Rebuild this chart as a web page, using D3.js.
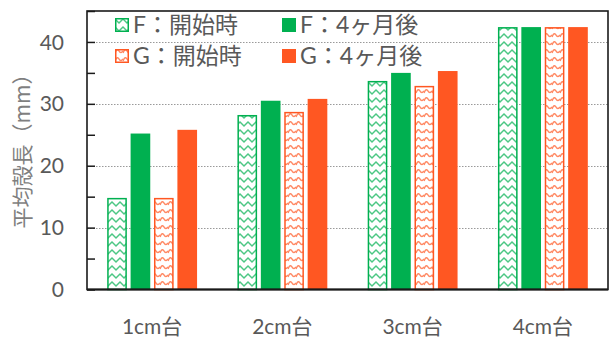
<!DOCTYPE html>
<html>
<head>
<meta charset="utf-8">
<script src="https://cdn.jsdelivr.net/npm/d3@7"></script>
<style>
  html, body { margin: 0; padding: 0; background: #fff; }
  svg { display: block; }
  text { font-family: Lato, "Noto Sans CJK JP", sans-serif; }
</style>
</head>
<body>
<svg id="chart" width="610" height="338"></svg>
<script>
// Mean shell length by size class, two groups measured at start and after 4 months
const categories = ["1cm台", "2cm台", "3cm台", "4cm台"];
const seriesNames = ["F：開始時", "F：4ヶ月後", "G：開始時", "G：4ヶ月後"];
const fStart = [14.8, 28.2, 33.7, 42.4];
const f4m    = [25.2, 30.5, 35.0, 42.4];
const gStart = [14.8, 28.7, 32.9, 42.4];
const g4m    = [25.8, 30.8, 35.3, 42.4];
const yTicks = [0, 10, 20, 30, 40];
const yTitle = "平均殻長（mm）";

const GREEN = "#00B050", ORANGE = "#FF5722";
const seriesValues = [fStart, f4m, gStart, g4m];
const seriesStyle = [
  { color: GREEN,  pattern: "zigzag" },
  { color: GREEN,  pattern: null },
  { color: ORANGE, pattern: "wave" },
  { color: ORANGE, pattern: null }
];

const svg = d3.select("#chart");
const plot = { left: 87, right: 608, top: 11, bottom: 289.5 };

const x = d3.scaleBand().domain(categories).range([plot.left, plot.right])
  .paddingInner(0.31).paddingOuter(0.155);
const xs = d3.scaleBand().domain(d3.range(4)).range([0, x.bandwidth()])
  .paddingInner(0.16).paddingOuter(0);
const y = d3.scaleLinear().domain([0, 45]).range([plot.bottom, plot.top]);

// fill patterns
const defs = svg.append("defs");
function zigzag(id, color) {
  const p = defs.append("pattern").attr("id", id).attr("patternUnits", "userSpaceOnUse")
    .attr("width", 8).attr("height", 8);
  p.append("rect").attr("width", 8).attr("height", 8).attr("fill", "#fff");
  p.append("path").attr("d", "M-1,1 L0,2 L4,6 L8,2 L9,1")
    .attr("fill", "none").attr("stroke", color).attr("stroke-width", 1.5).attr("stroke-opacity", 0.7);
}
function wave(id, color) {
  const p = defs.append("pattern").attr("id", id).attr("patternUnits", "userSpaceOnUse")
    .attr("width", 8).attr("height", 8);
  p.append("rect").attr("width", 8).attr("height", 8).attr("fill", "#fff");
  p.append("path").attr("d", "M0,5 C1.5,1 3,1 4,3 C5,5 6.5,5 8,3")
    .attr("fill", "none").attr("stroke", color).attr("stroke-width", 1.5).attr("stroke-opacity", 0.7);
}
zigzag("pat-zigzag", GREEN);
wave("pat-wave", ORANGE);

// gridlines
svg.append("g").selectAll("line").data(yTicks.filter(d => d > 0)).join("line")
  .attr("x1", plot.left).attr("x2", plot.right)
  .attr("y1", d => Math.round(y(d)) + 0.5).attr("y2", d => Math.round(y(d)) + 0.5)
  .attr("stroke", "#9a9a9a").attr("stroke-width", 1.2).attr("stroke-dasharray", "1.5,1.5");

// bars
seriesValues.forEach((vals, si) => {
  const st = seriesStyle[si];
  svg.append("g").selectAll("rect").data(vals).join("rect")
    .attr("x", (d, i) => x(categories[i]) + xs(si) + (st.pattern ? 0.75 : 0))
    .attr("y", d => y(d) + (st.pattern ? 0.75 : 0))
    .attr("width", xs.bandwidth() - (st.pattern ? 1.5 : 0))
    .attr("height", d => plot.bottom - y(d) - (st.pattern ? 0.75 : 0))
    .attr("fill", st.pattern ? `url(#pat-${st.pattern})` : st.color)
    .attr("stroke", st.pattern ? st.color : "none")
    .attr("stroke-width", 1.5);
});

// y axis with inward ticks every 5
const yAxis = d3.axisLeft(y).tickValues(d3.range(0, 46, 5)).tickSize(-8).tickFormat("");
const gy = svg.append("g").attr("transform", `translate(${plot.left},0)`).call(yAxis);
gy.select(".domain").remove();
gy.selectAll(".tick line").attr("stroke", "#1a1a1a").attr("stroke-width", 1.5);

svg.append("g").selectAll("text").data(yTicks).join("text")
  .attr("x", 64).attr("y", d => y(d)).attr("dy", "0.36em")
  .attr("text-anchor", "end").attr("font-size", 21).attr("fill", "#595959")
  .text(d => d);

// plot frame
svg.append("rect").attr("x", plot.left).attr("y", plot.top)
  .attr("width", plot.right - plot.left).attr("height", plot.bottom - plot.top)
  .attr("fill", "none").attr("stroke", "#1a1a1a").attr("stroke-width", 1.6);
svg.append("line").attr("x1", plot.left).attr("x2", plot.right)
  .attr("y1", plot.bottom).attr("y2", plot.bottom)
  .attr("stroke", "#1a1a1a").attr("stroke-width", 2.2);

// x axis labels
const xAxis = d3.axisBottom(x).tickSize(0).tickPadding(0);
const gx = svg.append("g").attr("transform", `translate(0,${plot.bottom})`).call(xAxis);
gx.select(".domain").remove();
gx.selectAll(".tick text").attr("y", 37).attr("dy", "0.36em")
  .attr("font-size", 21).attr("fill", "#595959")
  .style("font-family", 'Lato, "Noto Sans CJK JP", sans-serif');

// y title
svg.append("text").attr("transform", "translate(22,146) rotate(-90)")
  .attr("text-anchor", "middle").attr("dy", "0.36em")
  .attr("font-size", 21).attr("fill", "#7f7f7f")
  .style("font-family", '"Noto Sans CJK JP", sans-serif')
  .text(yTitle);

// legend
const legendPos = [[115, 25], [282, 25], [115, 56], [282, 56]];
const lg = svg.append("g").selectAll("g").data(seriesNames).join("g")
  .attr("transform", (d, i) => `translate(${legendPos[i][0]},${legendPos[i][1]})`);
lg.append("rect")
  .attr("x", (d, i) => seriesStyle[i].pattern ? 0.75 : 0)
  .attr("y", (d, i) => -7 + (seriesStyle[i].pattern ? 0.75 : 0))
  .attr("width", (d, i) => seriesStyle[i].pattern ? 12.5 : 14)
  .attr("height", (d, i) => seriesStyle[i].pattern ? 12.5 : 14)
  .attr("fill", (d, i) => seriesStyle[i].pattern ? `url(#pat-${seriesStyle[i].pattern})` : seriesStyle[i].color)
  .attr("stroke", (d, i) => seriesStyle[i].pattern ? seriesStyle[i].color : "none")
  .attr("stroke-width", 1.5);
lg.append("text").attr("x", 18).attr("dy", "0.36em")
  .attr("font-size", 23).attr("fill", "#595959")
  .text(d => d);
</script>
</body>
</html>
